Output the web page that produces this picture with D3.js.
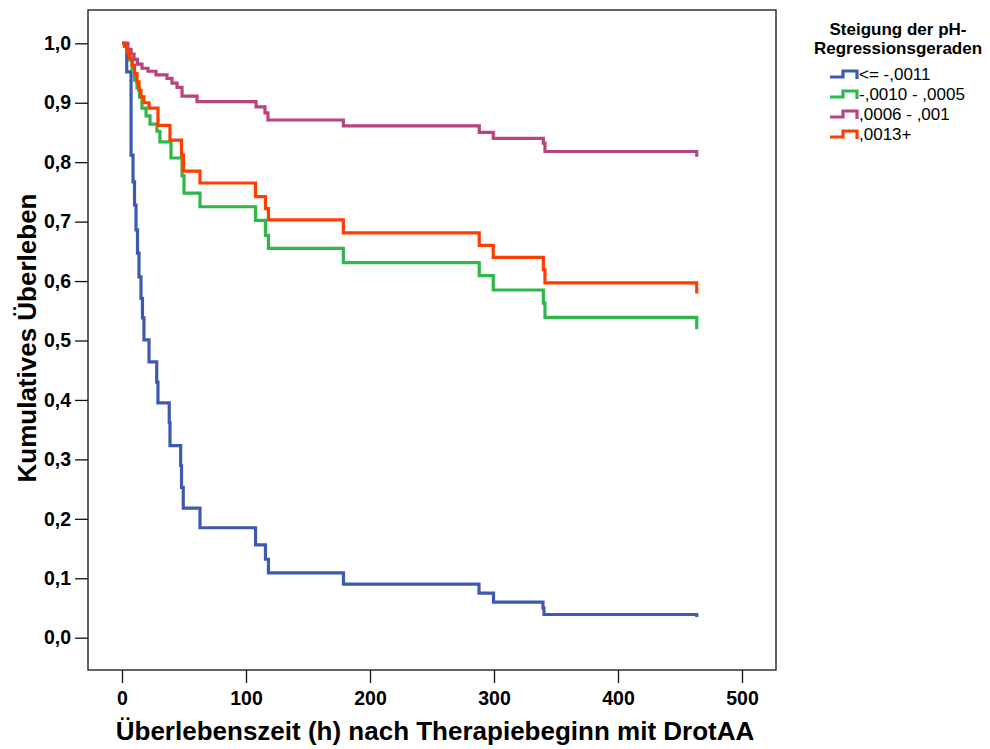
<!DOCTYPE html>
<html>
<head>
<meta charset="utf-8">
<script src="https://cdn.jsdelivr.net/npm/d3@7"></script>
<style>
  body { margin: 0; background: #fff; }
  svg { display: block; font-family: "Liberation Sans", Arial, sans-serif; }
</style>
</head>
<body>
<div id="chart"></div>
<script>
// group labels (legend)
const groupLabels = ['<= -,0011', '-,0010 - ,0005', ',0006 - ,001', ',0013+'];
const groupColors = ['#3e5ab0', '#2eb848', '#b7437f', '#ff3d00'];

// Kaplan-Meier steps (time in h, cumulative survival)
const blueTimes = [0, 3.8, 7.3, 8.9, 10.1, 11.3, 12.5, 13.7, 15.3, 16.5, 17.7, 21.8, 28.0, 29.0, 38.1, 38.7, 47.3, 48.0, 49.4, 62.9, 107.7, 115.7, 118.1, 178.6, 287.9, 299.6, 339.5, 340.3, 463.5];
const blueSurv  = [1, 0.952, 0.812, 0.767, 0.728, 0.686, 0.647, 0.607, 0.571, 0.538, 0.501, 0.464, 0.430, 0.395, 0.362, 0.323, 0.290, 0.253, 0.218, 0.185, 0.156, 0.132, 0.109, 0.090, 0.075, 0.060, 0.050, 0.039, 0.035];

const greenTimes = [0, 2.0, 4.0, 6.0, 8.1, 10.1, 12.1, 14.1, 16.1, 19.4, 22.6, 28.2, 30.6, 39.5, 48.4, 50.0, 62.9, 107.7, 115.7, 118.1, 178.5, 288.1, 299.4, 339.8, 341.1, 463.5];
const greenSurv  = [1, 0.995, 0.985, 0.972, 0.956, 0.938, 0.925, 0.910, 0.891, 0.878, 0.864, 0.852, 0.834, 0.807, 0.777, 0.748, 0.725, 0.702, 0.677, 0.655, 0.631, 0.609, 0.585, 0.563, 0.539, 0.519];

const purpleTimes = [0, 4.8, 7.3, 9.7, 12.5, 16.1, 21.0, 27.4, 36.3, 40.3, 44.4, 48.4, 60.5, 108.1, 115.3, 117.7, 178.5, 288.1, 299.4, 339.8, 341.1, 463.5];
const purpleSurv  = [1, 0.990, 0.982, 0.973, 0.965, 0.958, 0.953, 0.947, 0.941, 0.933, 0.926, 0.911, 0.902, 0.893, 0.883, 0.871, 0.861, 0.850, 0.840, 0.832, 0.818, 0.809];

const redTimes = [0, 2.0, 4.0, 6.0, 8.1, 10.1, 12.1, 13.7, 15.3, 17.7, 21.8, 29.0, 38.7, 48.0, 49.6, 62.9, 107.7, 115.7, 118.1, 178.5, 288.1, 299.4, 339.8, 341.1, 463.5];
const redSurv  = [1, 0.995, 0.985, 0.975, 0.963, 0.949, 0.935, 0.921, 0.910, 0.900, 0.891, 0.862, 0.837, 0.812, 0.785, 0.765, 0.742, 0.722, 0.703, 0.681, 0.660, 0.640, 0.619, 0.597, 0.579];

const xTicks = [0, 100, 200, 300, 400, 500];
const yTicks = [0, 0.1, 0.2, 0.3, 0.4, 0.5, 0.6, 0.7, 0.8, 0.9, 1.0];

const xTitle = 'Überlebenszeit (h) nach Therapiebeginn mit DrotAA';
const yTitle = 'Kumulatives Überleben';
const legendTitle = ['Steigung der pH-', 'Regressionsgeraden'];

const series = [
  { times: blueTimes, surv: blueSurv },
  { times: greenTimes, surv: greenSurv },
  { times: purpleTimes, surv: purpleSurv },
  { times: redTimes, surv: redSurv }
];

const width = 990;
const height = 749;
const frame = { left: 88, top: 10, right: 776, bottom: 670 };

const svg = d3.select('#chart')
  .append('svg')
  .attr('width', width)
  .attr('height', height);

const xScale = d3.scaleLinear().domain([0, 500]).range([122, 742]);
const yScale = d3.scaleLinear().domain([0, 1]).range([637.7, 43.3]);

// plot frame
svg.append('rect')
  .attr('x', frame.left)
  .attr('y', frame.top)
  .attr('width', frame.right - frame.left)
  .attr('height', frame.bottom - frame.top)
  .attr('fill', 'none')
  .attr('stroke', '#111')
  .attr('stroke-width', 1.3);

const fmt = v => d3.format('.1f')(v).replace('.', ',');

const xAxis = d3.axisBottom(xScale)
  .tickValues(xTicks)
  .tickSize(13)
  .tickPadding(8)
  .tickFormat(d3.format('d'));

svg.append('g')
  .attr('transform', `translate(0,${frame.bottom})`)
  .call(xAxis)
  .call(g => g.select('.domain').remove());

const yAxis = d3.axisLeft(yScale)
  .tickValues(yTicks)
  .tickSize(13)
  .tickPadding(4)
  .tickFormat(fmt);

svg.append('g')
  .attr('transform', `translate(${frame.left},0)`)
  .call(yAxis)
  .call(g => g.select('.domain').remove());

svg.selectAll('.tick line').attr('stroke', '#111').attr('stroke-width', 1.3);
svg.selectAll('.tick text')
  .attr('fill', '#000')
  .style('font-family', '"Liberation Sans", Arial, sans-serif')
  .style('font-size', '19.5px')
  .style('font-weight', 'bold');

// axis titles
svg.append('text')
  .attr('x', 435)
  .attr('y', 740)
  .attr('text-anchor', 'middle')
  .style('font-size', '26px')
  .style('font-weight', 'bold')
  .text(xTitle);

svg.append('text')
  .attr('transform', 'translate(36,338) rotate(-90)')
  .attr('text-anchor', 'middle')
  .style('font-size', '26px')
  .style('font-weight', 'bold')
  .text(yTitle);

// survival curves
const line = d3.line()
  .x(d => xScale(d[0]))
  .y(d => yScale(d[1]))
  .curve(d3.curveStepAfter);

series.forEach((s, i) => {
  const pts = s.times.map((t, j) => [t, s.surv[j]]);
  svg.append('path')
    .attr('d', line(pts))
    .attr('fill', 'none')
    .attr('stroke', groupColors[i])
    .attr('stroke-width', 3.2);
});

// legend
const legend = svg.append('g');

legend.selectAll('.ltitle')
  .data(legendTitle)
  .enter()
  .append('text')
  .attr('x', 898)
  .attr('y', (d, i) => 35 + i * 19)
  .attr('text-anchor', 'middle')
  .style('font-size', '17px')
  .style('font-weight', 'bold')
  .text(d => d);

const items = legend.selectAll('.item')
  .data(groupLabels)
  .enter()
  .append('g')
  .attr('transform', (d, i) => `translate(0,${80 + i * 20})`);

items.append('path')
  .attr('d', 'M830,-3H843V-9H857V-1')
  .attr('fill', 'none')
  .attr('stroke', (d, i) => groupColors[i])
  .attr('stroke-width', 3.2);

items.append('text')
  .attr('x', 859)
  .attr('y', 0)
  .style('font-size', '17px')
  .text(d => d);
</script>
</body>
</html>
